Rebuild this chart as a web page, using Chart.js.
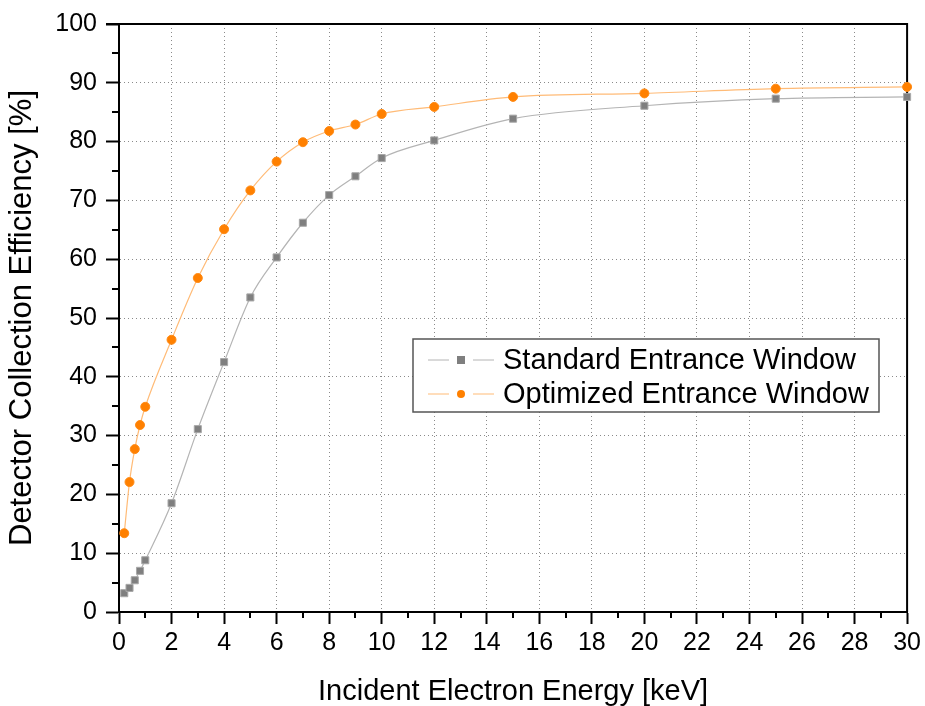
<!DOCTYPE html>
<html>
<head>
<meta charset="utf-8">
<script src="https://cdn.jsdelivr.net/npm/chart.js@4"></script>
<style>
  html, body { margin: 0; padding: 0; background: #fff; }
  #wrap { width: 925px; height: 706px; }
</style>
</head>
<body>
<div id="wrap"><canvas id="effChart" width="925" height="706"></canvas></div>
<script>
// data
const energy = [0.2, 0.4, 0.6, 0.8, 1, 2, 3, 4, 5, 6, 7, 8, 9, 10, 12, 15, 20, 25, 30];
const standardEff = [3.2, 4.1, 5.4, 7.0, 8.8, 18.5, 31.1, 42.5, 53.5, 60.3, 66.2, 70.9, 74.1, 77.2, 80.2, 83.9, 86.1, 87.3, 87.6];
const optimizedEff = [13.4, 22.1, 27.7, 31.8, 34.9, 46.3, 56.8, 65.1, 71.7, 76.6, 79.9, 81.8, 82.9, 84.7, 85.9, 87.6, 88.2, 89.0, 89.3];
const seriesNames = ["Standard Entrance Window", "Optimized Entrance Window"];
const xMinorTicks = [1, 3, 5, 7, 9, 11, 13, 15, 17, 19, 21, 23, 25, 27, 29];
const yMinorTicks = [5, 15, 25, 35, 45, 55, 65, 75, 85, 95];

const FONT = "'Liberation Sans', Arial, sans-serif";

function toPoints(xs, ys) {
    return xs.map((x, i) => ({ x: x, y: ys[i] }));
}

// top/right frame + minor ticks
const framePlugin = {
    id: "frame",
    beforeDatasetsDraw(chart) {
        const { ctx, chartArea: a, scales } = chart;
        ctx.save();
        ctx.strokeStyle = "#000";
        ctx.lineWidth = 2;
        ctx.beginPath();
        ctx.moveTo(a.left - 13, a.top);
        ctx.lineTo(a.right, a.top);
        ctx.lineTo(a.right, a.bottom);
        ctx.stroke();

        ctx.beginPath();
        xMinorTicks.forEach(v => {
            const px = Math.round(scales.x.getPixelForValue(v));
            ctx.moveTo(px, a.bottom);
            ctx.lineTo(px, a.bottom + 6);
        });
        yMinorTicks.forEach(v => {
            const py = Math.round(scales.y.getPixelForValue(v));
            ctx.moveTo(a.left - 7, py);
            ctx.lineTo(a.left, py);
        });
        ctx.stroke();
        ctx.restore();
    }
};

// legend box with line-marker-line samples
const legendPlugin = {
    id: "boxLegend",
    afterDatasetsDraw(chart) {
        const { ctx, chartArea: a } = chart;
        const left = a.left + 294, top = a.top + 315;
        const w = 466, h = 73;
        ctx.save();
        ctx.fillStyle = "#fff";
        ctx.fillRect(left, top, w, h);
        ctx.strokeStyle = "#555";
        ctx.lineWidth = 1.5;
        ctx.strokeRect(left, top, w, h);

        ctx.font = "29px " + FONT;
        ctx.textBaseline = "middle";
        chart.data.datasets.forEach((ds, i) => {
            const y = top + 21 + i * 34;
            ctx.strokeStyle = ds.borderColor;
            ctx.lineWidth = 1;
            ctx.beginPath();
            ctx.moveTo(left + 15, y);
            ctx.lineTo(left + 36, y);
            ctx.moveTo(left + 60, y);
            ctx.lineTo(left + 81, y);
            ctx.stroke();
            ctx.fillStyle = ds.pointBackgroundColor;
            ctx.beginPath();
            if (ds.pointStyle === "rect") {
                ctx.rect(left + 44, y - 4, 8, 8);
            } else {
                ctx.arc(left + 48, y, 4, 0, Math.PI * 2);
            }
            ctx.fill();
            ctx.fillStyle = "#000";
            ctx.fillText(ds.label, left + 90, y + 1);
        });
        ctx.restore();
    }
};

const ctx = document.getElementById("effChart").getContext("2d");
new Chart(ctx, {
    type: "line",
    data: {
        datasets: [{
            label: seriesNames[0],
            data: toPoints(energy, standardEff),
            borderColor: "#b4b4b4",
            borderWidth: 1.2,
            pointStyle: "rect",
            pointRadius: 5,
            pointBackgroundColor: "#7f7f7f",
            pointBorderColor: "#a8a8a8",
            pointBorderWidth: 1,
            cubicInterpolationMode: "monotone",
            clip: false,
            fill: false
        }, {
            label: seriesNames[1],
            data: toPoints(energy, optimizedEff),
            borderColor: "#ffbb77",
            borderWidth: 1.2,
            pointStyle: "circle",
            pointRadius: 4.5,
            pointBackgroundColor: "#ff8000",
            pointBorderColor: "#ff8a14",
            pointBorderWidth: 1,
            cubicInterpolationMode: "monotone",
            clip: false,
            fill: false
        }]
    },
    options: {
        responsive: false,
        animation: false,
        layout: { padding: { left: 6, top: 24, right: 14, bottom: 0 } },
        plugins: {
            legend: { display: false },
            tooltip: { enabled: false }
        },
        scales: {
            x: {
                type: "linear",
                min: 0,
                max: 30,
                afterFit(scale) { scale.height = 94; },
                ticks: {
                    stepSize: 2,
                    color: "#000",
                    font: { family: FONT, size: 25 },
                    padding: 4,
                    maxRotation: 0
                },
                grid: {
                    color: "#8a8a8a",
                    lineWidth: 1,
                    tickColor: "#000",
                    tickWidth: 2,
                    tickLength: 12
                },
                // in v4 border.dash styles the grid lines
                border: { color: "#000", width: 2, dash: [1, 3] },
                title: {
                    display: true,
                    text: "Incident Electron Energy [keV]",
                    color: "#000",
                    font: { family: FONT, size: 29 },
                    padding: { top: 0, bottom: -3 }
                }
            },
            y: {
                min: 0,
                max: 100,
                afterFit(scale) { scale.width = 113; },
                ticks: {
                    stepSize: 10,
                    color: "#000",
                    font: { family: FONT, size: 25 },
                    padding: 9
                },
                grid: {
                    color: "#8a8a8a",
                    lineWidth: 1,
                    tickColor: "#000",
                    tickWidth: 2,
                    tickLength: 13
                },
                border: { color: "#000", width: 2, dash: [1, 3] },
                title: {
                    display: true,
                    text: "Detector Collection Efficiency [%]",
                    color: "#000",
                    font: { family: FONT, size: 31 },
                    padding: -2
                }
            }
        }
    },
    plugins: [framePlugin, legendPlugin]
});
</script>
</body>
</html>
